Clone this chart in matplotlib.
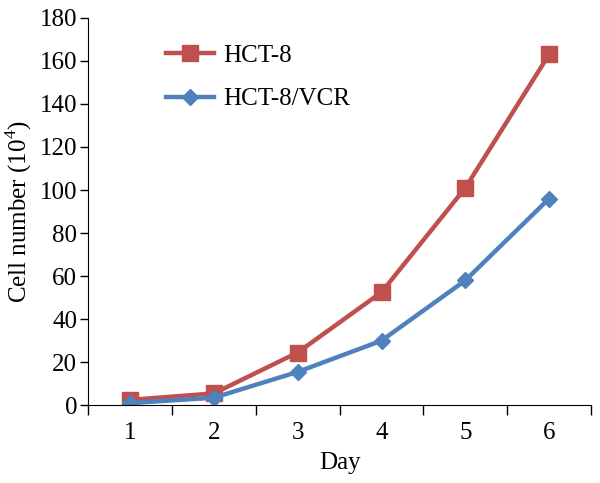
import numpy as np
import matplotlib.pyplot as plt

plt.rcParams['font.family'] = ['Liberation Serif', 'DejaVu Serif']
plt.rcParams['mathtext.fontset'] = 'custom'
plt.rcParams['mathtext.rm'] = 'Liberation Serif'

# --- datos ---
dias = [1, 2, 3, 4, 5, 6]
hct8 = [2.5, 5.5, 24.5, 52.5, 101, 163]
hct8_vcr = [1, 3.5, 15.5, 30, 58, 96]

fig = plt.figure(figsize=(6, 4.83), dpi=100)
ax = fig.add_axes([0.147, 0.161, 0.838, 0.802])

ax.plot(dias, hct8, '-s', color='#C0504D', lw=3.2, ms=11, label='HCT-8')
ax.plot(dias, hct8_vcr, '-D', color='#4F81BD', lw=3.2, ms=8, label='HCT-8/VCR')

ax.set_xlim(0.5, 6.5)
ax.set_ylim(0, 180)
ax.set_yticks(np.arange(0, 181, 20))
ax.set_xticks(np.arange(0.5, 6.6, 1))
ax.set_xticklabels([])
ax.set_xticks(dias, minor=True)
ax.set_xticklabels([str(d) for d in dias], minor=True)
ax.tick_params(axis='x', which='minor', length=0, pad=12, labelsize=18)
ax.tick_params(axis='x', which='major', length=7, width=1)
ax.tick_params(axis='y', length=6, width=1, labelsize=18, pad=2)

for s in ['top', 'right']:
    ax.spines[s].set_visible(False)

ax.set_xlabel('Day', fontsize=18, labelpad=6)
ax.set_ylabel('Cell number (10$^\\mathrm{4}$)', fontsize=18, labelpad=4)

ax.legend(loc='upper left', bbox_to_anchor=(0.11, 0.99), frameon=False,
          fontsize=18, handlelength=1.9, handletextpad=0.4, labelspacing=0.85)

fig.savefig('out.png', dpi=100)
